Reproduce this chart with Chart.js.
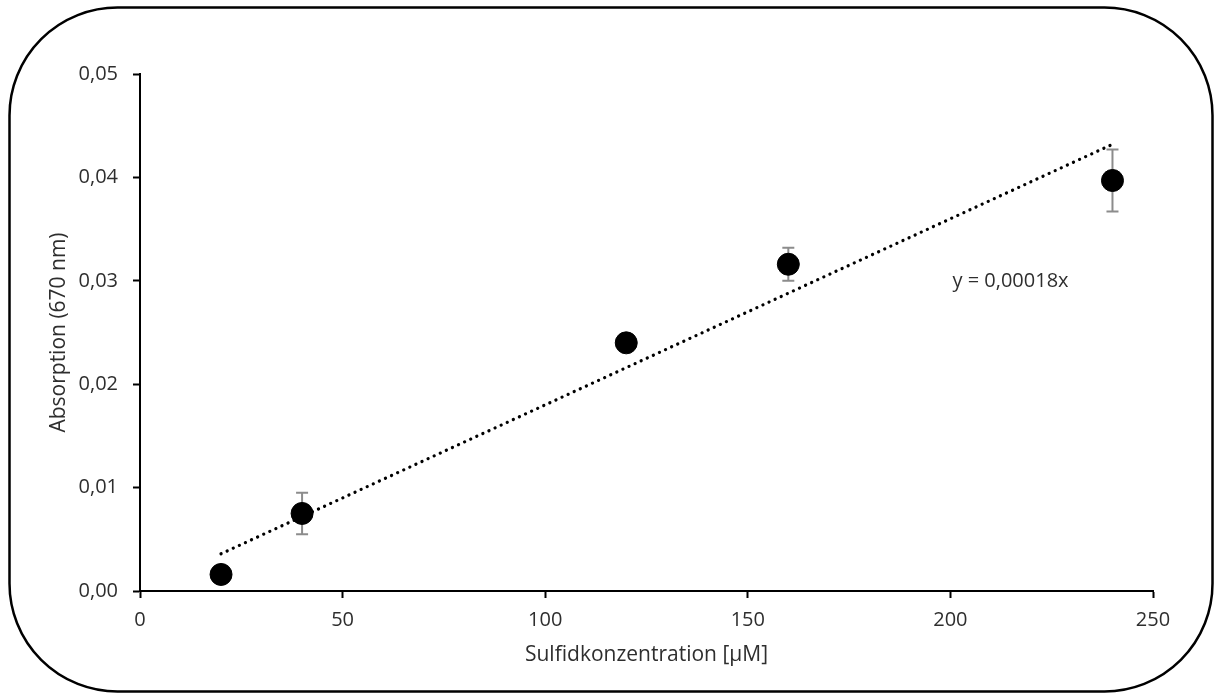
<!DOCTYPE html>
<html>
<head>
<meta charset="utf-8">
<script src="https://cdn.jsdelivr.net/npm/chart.js@4.4.0/dist/chart.umd.min.js"></script>
<style>
html,body{margin:0;padding:0;background:#fff;}
#wrap{width:1215px;height:695px;position:relative;}
</style>
</head>
<body>
<div id="wrap"><canvas id="c" width="1215" height="695"></canvas></div>
<script>
// Data
const concentrations = [20, 40, 120, 160, 240];
const absorption = [0.0016, 0.0075, 0.0240, 0.0316, 0.0397];
const errors = [0.0005, 0.0020, 0.0008, 0.0016, 0.0030];
const trendX = [20, 240];
const trendY = [0.0036, 0.0432];
const trendLabel = 'y = 0,00018x';
const trendLabelPos = [200.5, 0.0300];
const xTitle = 'Sulfidkonzentration [µM]';
const yTitle = 'Absorption (670 nm)';

const FONT = "'Open Sans', 'Noto Sans', sans-serif";
const TEXT = '#2e2e2e';

const frame = {
  id: 'frame',
  beforeDraw(chart) {
    const ctx = chart.ctx;
    ctx.save();
    ctx.fillStyle = '#fff';
    ctx.fillRect(0, 0, chart.width, chart.height);
    ctx.beginPath();
    ctx.roundRect(9.5, 7.5, 1203, 684, 108);
    ctx.lineWidth = 2.5;
    ctx.strokeStyle = '#000';
    ctx.stroke();
    ctx.restore();
  }
};

const errorBars = {
  id: 'errorBars',
  beforeDatasetsDraw(chart) {
    const ctx = chart.ctx, xs = chart.scales.x, ys = chart.scales.y;
    ctx.save();
    ctx.strokeStyle = '#8c8c8c';
    ctx.lineWidth = 2;
    concentrations.forEach((c, i) => {
      const px = xs.getPixelForValue(c);
      const top = ys.getPixelForValue(absorption[i] + errors[i]);
      const bot = ys.getPixelForValue(absorption[i] - errors[i]);
      ctx.beginPath();
      ctx.moveTo(px, top); ctx.lineTo(px, bot);
      ctx.moveTo(px - 6, top); ctx.lineTo(px + 6, top);
      ctx.moveTo(px - 6, bot); ctx.lineTo(px + 6, bot);
      ctx.stroke();
    });
    ctx.restore();
  }
};

const labelPlugin = {
  id: 'trendLabel',
  afterDraw(chart) {
    const ctx = chart.ctx;
    ctx.save();
    ctx.fillStyle = TEXT;
    ctx.font = "20px " + FONT;
    ctx.textAlign = 'left';
    ctx.textBaseline = 'middle';
    ctx.fillText(trendLabel, chart.scales.x.getPixelForValue(trendLabelPos[0]), chart.scales.y.getPixelForValue(trendLabelPos[1]));
    ctx.restore();
  }
};

new Chart(document.getElementById('c'), {
  type: 'scatter',
  data: {
    datasets: [
      {
        label: 'Messwerte',
        data: concentrations.map((x, i) => ({x, y: absorption[i]})),
        backgroundColor: '#000',
        borderColor: '#000',
        pointRadius: 11,
        pointHoverRadius: 11,
        clip: false
      },
      {
        label: 'Trend',
        type: 'line',
        data: trendX.map((x, i) => ({x, y: trendY[i]})),
        borderColor: '#000',
        borderWidth: 3.2,
        borderDash: [0.1, 6.6],
        borderCapStyle: 'round',
        pointRadius: 0,
        fill: false,
        clip: false
      }
    ]
  },
  options: {
    responsive: false,
    animation: false,
    devicePixelRatio: 1,
    layout: { padding: { left: 42, top: 74, right: 62, bottom: 23 } },
    plugins: { legend: { display: false }, tooltip: { enabled: false } },
    scales: {
      x: {
        type: 'linear', min: 0, max: 250,
        afterFit(s) { s.height = 81; },
        ticks: { stepSize: 50, color: TEXT, font: { family: FONT, size: 20 }, padding: 10, maxRotation: 0 },
        grid: { drawOnChartArea: false, drawTicks: true, tickLength: 7, tickColor: '#000', tickWidth: 2 },
        border: { display: true, color: '#000', width: 2 },
        title: { display: true, text: xTitle, color: TEXT, font: { family: FONT, size: 21 }, padding: { top: 4, bottom: 4 } }
      },
      y: {
        type: 'linear', min: 0, max: 0.05,
        afterFit(s) { s.width = 98; },
        ticks: { stepSize: 0.01, color: TEXT, font: { family: FONT, size: 20 }, padding: 15,
          callback: v => v.toFixed(2).replace('.', ',') },
        grid: { drawOnChartArea: false, drawTicks: true, tickLength: 7, tickColor: '#000', tickWidth: 2 },
        border: { display: true, color: '#000', width: 2 },
        title: { display: true, text: yTitle, color: TEXT, font: { family: FONT, size: 21 }, padding: { top: 4, bottom: 4 } }
      }
    }
  },
  plugins: [frame, errorBars, labelPlugin]
});
</script>
</body>
</html>
